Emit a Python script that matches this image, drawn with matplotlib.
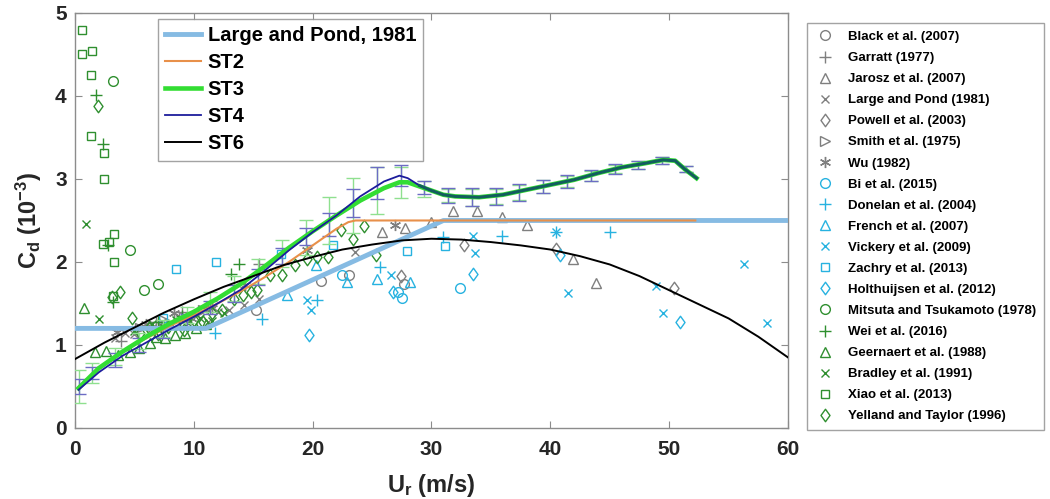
import matplotlib
matplotlib.use('Agg')
import matplotlib.pyplot as plt
from matplotlib.lines import Line2D
from matplotlib.path import Path

plt.rcParams['font.family'] = ['Liberation Sans', 'DejaVu Sans']
plt.rcParams['mathtext.fontset'] = 'custom'
plt.rcParams['mathtext.rm'] = 'Liberation Sans:bold'
plt.rcParams['mathtext.it'] = 'Liberation Sans:bold'
plt.rcParams['mathtext.bf'] = 'Liberation Sans:bold'
plt.rcParams['mathtext.default'] = 'rm'

# ---- model curves ----
lp_u = [0, 11, 31, 60]
lp_cd = [1.2, 1.2, 2.5, 2.5]

st2_u = [0.3, 2, 4, 6, 8, 10, 12, 14, 16, 18, 20, 22, 23, 23.6, 52.2]
st2_cd = [0.48, 0.72, 0.92, 1.08, 1.23, 1.36, 1.5, 1.65, 1.82, 2.0, 2.2, 2.4, 2.48, 2.5, 2.5]

st3_u = [0.3, 2, 4, 6, 8, 10, 12, 14, 16, 18, 20, 22, 24, 26, 27.3, 28, 29, 30, 31, 32, 34,
         36, 38, 40, 42, 44, 46, 48, 49.5, 50.5, 51.3, 52.3]
st3_cd = [0.48, 0.72, 0.92, 1.1, 1.26, 1.4, 1.56, 1.74, 1.95, 2.17, 2.37, 2.56, 2.74, 2.89, 2.96,
          2.96, 2.91, 2.86, 2.81, 2.79, 2.78, 2.81, 2.87, 2.93, 2.99, 3.07, 3.14, 3.19, 3.23,
          3.22, 3.12, 3.01]

st4_u = [0.3, 2, 4, 6, 8, 10, 12, 14, 16, 18, 20, 22, 24, 26, 27.3, 28, 29, 30, 31, 32, 34,
         36, 38, 40, 42, 44, 46, 48, 49.5, 50.5, 51.3, 52.3]
st4_cd = [0.46, 0.67, 0.87, 1.03, 1.19, 1.34, 1.5, 1.67, 1.9, 2.14, 2.36, 2.56, 2.79, 2.97, 3.04,
          3.01, 2.92, 2.86, 2.81, 2.79, 2.78, 2.81, 2.87, 2.93, 2.99, 3.07, 3.14, 3.19, 3.23,
          3.22, 3.12, 3.01]

st6_u = [0, 2.5, 5, 7.5, 10, 12.5, 15, 17.5, 20, 22.5, 25, 27.5, 30, 32.5, 35, 37.5, 40, 42.5,
         45, 47.5, 50, 52.5, 55, 57.5, 60]
st6_cd = [0.83, 1.03, 1.21, 1.39, 1.55, 1.7, 1.83, 1.96, 2.06, 2.15, 2.21, 2.26, 2.28, 2.27, 2.24,
          2.2, 2.15, 2.07, 1.97, 1.83, 1.66, 1.49, 1.32, 1.1, 0.85]

# ---- error bars ----
bar_u = [0.3, 1.4, 3.4, 5.4, 7.4, 9.4, 11.4, 13.4, 15.4, 17.4, 19.4, 21.4, 23.4, 25.4, 27.4,
         29.4, 31.4, 33.4, 35.4, 37.4, 39.4, 41.4, 43.4, 45.4, 47.4, 49.4, 51.4]
st3_bar = [0.5, 0.66, 0.86, 1.05, 1.2, 1.36, 1.52, 1.68, 1.88, 2.1, 2.3, 2.5, 2.68, 2.86, 2.96,
           2.88, 2.8, 2.78, 2.79, 2.84, 2.91, 2.97, 3.04, 3.12, 3.17, 3.22, 3.12]
st3_err = [0.2, 0.12, 0.1, 0.1, 0.1, 0.1, 0.12, 0.15, 0.15, 0.16, 0.21, 0.28, 0.33, 0.28, 0.19,
           0.1, 0.08, 0.1, 0.09, 0.09, 0.08, 0.07, 0.06, 0.05, 0.05, 0.04, 0.04]
st4_bar = [0.5, 0.66, 0.82, 1.0, 1.15, 1.3, 1.45, 1.62, 1.82, 2.07, 2.31, 2.45, 2.71, 2.95, 3.04,
           2.9, 2.8, 2.78, 2.79, 2.84, 2.91, 2.97, 3.04, 3.12, 3.17, 3.22, 3.12]
st4_err = [0.09, 0.07, 0.08, 0.08, 0.07, 0.07, 0.08, 0.1, 0.1, 0.1, 0.1, 0.14, 0.17, 0.19, 0.13,
           0.08, 0.09, 0.11, 0.1, 0.1, 0.08, 0.08, 0.07, 0.06, 0.05, 0.04, 0.04]

# ---- observations ----
black_u = [15.2, 20.7, 23.1, 27.7]
black_cd = [1.42, 1.77, 1.84, 1.74]
garratt_u = [3.9, 6.8, 9.0, 11.0, 15.5]
garratt_cd = [1.05, 1.28, 1.4, 1.46, 1.98]
jarosz_u = [25.8, 27.8, 30.0, 31.8, 33.8, 35.9, 38.0, 41.9, 43.8]
jarosz_cd = [2.36, 2.41, 2.48, 2.62, 2.61, 2.54, 2.44, 2.03, 1.75]
lp81_u = [3.4, 4.2, 5.0, 5.8, 6.5, 7.3, 8.0, 8.8, 9.5, 10.3, 11.2, 12.0, 13.0, 14.2, 15.5, 23.6]
lp81_cd = [1.08, 1.15, 1.13, 1.22, 1.2, 1.28, 1.26, 1.33, 1.3, 1.36, 1.28, 1.4, 1.42, 1.48, 1.55, 2.12]
powell_u = [27.4, 32.7, 40.5, 50.4]
powell_cd = [1.83, 2.21, 2.16, 1.69]
smith_u = [5.5, 7.5, 9.2, 10.8]
smith_cd = [1.2, 1.3, 1.34, 1.42]
wu_u = [3.5, 6.0, 8.3, 9.8, 11.5, 14.3, 19.5, 26.9]
wu_cd = [1.16, 1.25, 1.38, 1.32, 1.45, 1.72, 2.14, 2.44]

bi_u = [22.5, 27.2, 27.5, 32.4]
bi_cd = [1.84, 1.64, 1.57, 1.69]
donelan_u = [11.8, 15.7, 20.4, 25.7, 31.0, 35.9, 40.5, 45.0]
donelan_cd = [1.14, 1.31, 1.54, 1.94, 2.3, 2.31, 2.36, 2.36]
french_u = [17.8, 20.3, 22.9, 25.4, 28.2]
french_cd = [1.6, 1.96, 1.76, 1.8, 1.76]
vickery_u = [19.5, 19.9, 26.6, 33.5, 33.7, 40.5, 41.5, 48.9, 49.5, 56.3, 58.2]
vickery_cd = [1.54, 1.42, 1.84, 2.31, 2.11, 2.36, 1.63, 1.71, 1.39, 1.97, 1.27]
zachry_u = [7.4, 8.5, 11.9, 17.3, 21.7, 27.9, 31.1]
zachry_cd = [1.33, 1.91, 2.0, 2.1, 2.2, 2.13, 2.19]
holt_u = [19.7, 26.8, 33.5, 40.8, 50.9]
holt_cd = [1.12, 1.64, 1.85, 2.09, 1.28]

mitsuta_u = [3.2, 4.6, 5.8, 7.0]
mitsuta_cd = [4.18, 2.14, 1.66, 1.73]
wei_u = [1.8, 2.4, 2.8, 3.2, 7.0, 9.0, 13.1, 13.8]
wei_cd = [4.01, 3.42, 2.2, 1.52, 1.28, 1.35, 1.86, 1.98]
geern_u = [0.8, 1.7, 2.6, 3.6, 4.6, 5.4, 6.3, 6.8, 7.6, 8.4, 9.3, 10.2, 11.0]
geern_cd = [1.44, 0.92, 0.93, 0.88, 0.91, 0.96, 1.02, 1.1, 1.08, 1.12, 1.15, 1.2, 1.25]
bradley_u = [0.9, 2.0, 5.0, 6.5, 7.5, 8.5, 9.5, 10.5, 11.5, 12.5]
bradley_cd = [2.46, 1.31, 1.17, 1.25, 1.2, 1.3, 1.27, 1.33, 1.29, 1.38]
xiao_u = [0.6, 0.56, 1.4, 1.35, 1.32, 2.47, 2.41, 2.4, 2.9, 3.3, 3.3, 3.2]
xiao_cd = [4.79, 4.51, 4.54, 4.25, 3.52, 3.31, 3.0, 2.22, 2.24, 2.34, 2.0, 1.59]
yelland_u = [1.9, 3.1, 3.8, 4.8, 5.5, 6.2, 7.0, 7.8, 8.5, 9.2, 10.0, 10.8, 11.5, 12.4, 13.4, 14.1,
             14.8, 15.3, 16.4, 17.4, 18.5, 19.5, 20.4, 21.3, 22.4, 23.4, 24.3, 25.3]
yelland_cd = [3.88, 1.58, 1.64, 1.32, 1.15, 1.2, 1.13, 1.22, 1.25, 1.18, 1.3, 1.28, 1.38, 1.42, 1.56,
              1.6, 1.64, 1.66, 1.84, 1.84, 1.96, 2.04, 2.06, 2.06, 2.38, 2.28, 2.43, 2.09]

gray = '#7f7f7f'
cyan = '#27b2e0'
green = '#2f8f2f'

# MATLAB-like diamond (a bit taller than wide)
diamond = Path([(0, 1), (0.72, 0), (0, -1), (-0.72, 0), (0, 1)],
               [Path.MOVETO, Path.LINETO, Path.LINETO, Path.LINETO, Path.CLOSEPOLY])

obs = [
    ('Black et al. (2007)', black_u, black_cd, gray, 'o', 7),
    ('Garratt (1977)', garratt_u, garratt_cd, gray, '+', 8),
    ('Jarosz et al. (2007)', jarosz_u, jarosz_cd, gray, '^', 7.5),
    ('Large and Pond (1981)', lp81_u, lp81_cd, gray, 'x', 6),
    ('Powell et al. (2003)', powell_u, powell_cd, gray, diamond, 9),
    ('Smith et al. (1975)', smith_u, smith_cd, gray, '>', 7.5),
    ('Wu (1982)', wu_u, wu_cd, gray, (6, 2, 0), 8),
    ('Bi et al. (2015)', bi_u, bi_cd, cyan, 'o', 7),
    ('Donelan et al. (2004)', donelan_u, donelan_cd, cyan, '+', 8),
    ('French et al. (2007)', french_u, french_cd, cyan, '^', 7.5),
    ('Vickery et al. (2009)', vickery_u, vickery_cd, cyan, 'x', 6),
    ('Zachry et al. (2013)', zachry_u, zachry_cd, cyan, 's', 6),
    ('Holthuijsen et al. (2012)', holt_u, holt_cd, cyan, diamond, 9),
    ('Mitsuta and Tsukamoto (1978)', mitsuta_u, mitsuta_cd, green, 'o', 7),
    ('Wei et al. (2016)', wei_u, wei_cd, green, '+', 8),
    ('Geernaert et al. (1988)', geern_u, geern_cd, green, '^', 7.5),
    ('Bradley et al. (1991)', bradley_u, bradley_cd, green, 'x', 6),
    ('Xiao et al. (2013)', xiao_u, xiao_cd, green, 's', 6),
    ('Yelland and Taylor (1996)', yelland_u, yelland_cd, green, diamond, 9),
]

fig = plt.figure(figsize=(10.5, 4.99), dpi=100)
ax = fig.add_axes([0.0714, 0.1423, 0.6791, 0.8317])

obs_handles = []
for name, u, cd, col, mk, ms in obs:
    ax.plot(u, cd, linestyle='none', marker=mk, markersize=ms, markerfacecolor='none',
            markeredgecolor=col, markeredgewidth=1.0, zorder=2)
    obs_handles.append(Line2D([], [], linestyle='none', marker=mk, markersize=ms,
                              markerfacecolor='none', markeredgecolor=col,
                              markeredgewidth=1.0, label=name))

ax.errorbar(bar_u, st3_bar, yerr=st3_err, fmt='none', ecolor='#8fe08f', elinewidth=1.0,
            capsize=5, capthick=1.0, zorder=3)
ax.errorbar(bar_u, st4_bar, yerr=st4_err, fmt='none', ecolor='#6c6cc4', elinewidth=1.0,
            capsize=5, capthick=1.0, zorder=3)

l_lp, = ax.plot(lp_u, lp_cd, color='#86bbe3', lw=3.5, label='Large and Pond, 1981', zorder=4)
l_st2, = ax.plot(st2_u, st2_cd, color='#e8904a', lw=1.5, label='ST2', zorder=5)
l_st3, = ax.plot(st3_u, st3_cd, color='#33dd33', lw=3.3, label='ST3', zorder=5)
l_st4, = ax.plot(st4_u, st4_cd, color='#1c1c9c', lw=1.3, label='ST4', zorder=6)
l_st6, = ax.plot(st6_u, st6_cd, color='black', lw=1.4, label='ST6', zorder=6)
# where ST3 and ST4 coincide the picture shows a dark teal band
ax.plot(st4_u[16:], st4_cd[16:], color='#135e5e', lw=2.2, zorder=6)

ax.set_xlim(0, 60)
ax.set_ylim(0, 5)
ax.set_xticks([0, 10, 20, 30, 40, 50, 60])
ax.set_yticks([0, 1, 2, 3, 4, 5])
for s in ax.spines.values():
    s.set_color('#8c8c8c')
    s.set_linewidth(1.0)
ax.tick_params(direction='in', length=5, color='#8c8c8c', top=True, right=True,
               labelsize=15, labelcolor='#262626')
ax.tick_params(axis='x', pad=9)
ax.tick_params(axis='y', pad=6)
for lab in ax.get_xticklabels() + ax.get_yticklabels():
    lab.set_fontweight('bold')

ax.set_xlabel('U$_{\\mathrm{r}}$ (m/s)', fontsize=17, fontweight='bold', color='#262626',
              labelpad=9)
ax.set_ylabel('C$_{\\mathrm{d}}$ (10$^{-3}$)', fontsize=17, fontweight='bold', color='#262626',
              labelpad=8)

leg1 = ax.legend(handles=[l_lp, l_st2, l_st3, l_st4, l_st6], loc='upper left',
                 bbox_to_anchor=(0.117, 0.985), prop={'weight': 'bold', 'size': 14.5},
                 frameon=True, fancybox=False, edgecolor='#8c8c8c', handlelength=1.75,
                 handletextpad=0.35, labelspacing=0.4, borderaxespad=0, borderpad=0.35)
leg1.get_frame().set_linewidth(1.0)
leg1.set_zorder(10)

leg2 = fig.legend(handles=obs_handles, loc='upper left', bbox_to_anchor=(0.7686, 0.954),
                  prop={'weight': 'bold', 'size': 9.5}, frameon=True, fancybox=False,
                  edgecolor='#8c8c8c', handlelength=1.5, handletextpad=1.0, labelspacing=0.67,
                  borderaxespad=0, borderpad=0.6)
leg2.get_frame().set_linewidth(1.0)

fig.savefig('out.png', dpi=100)
